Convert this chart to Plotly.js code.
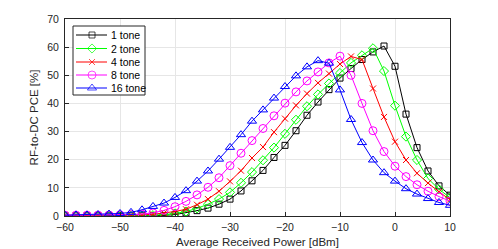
<!DOCTYPE html>
<html><head><meta charset="utf-8">
<script src="https://cdn.plot.ly/plotly-3.0.1.min.js"></script>
<style>html,body{margin:0;padding:0;background:#fff}#chart{width:498px;height:249px}</style>
</head><body><div id="chart"></div>
<script>
const power = [-60,-58,-56,-54,-52,-50,-48,-46,-44,-42,-40,-38,-36,-34,-32,-30,-28,-26,-24,-22,-20,-18,-16,-14,-12,-10,-8,-6,-4,-2,0,2,4,6,8,10];
const tone1 = [0.05,0.05,0.05,0.05,0.05,0.05,0.05,0.08,0.1,0.2,0.5,1.1,1.9,2.8,4.2,6.0,8.9,12.5,16.2,20.8,25.1,30.3,35.8,40.5,44.9,49.0,52.4,55.6,58.3,60.4,53.2,36.2,24.3,16.0,10.7,7.4];
const tone2 = [0.05,0.05,0.05,0.05,0.05,0.06,0.08,0.15,0.3,0.5,0.9,1.6,2.7,4.2,6.0,8.4,11.8,15.6,19.8,24.3,29.2,34.2,39.0,43.2,47.1,50.8,54.4,57.1,59.6,51.5,39.2,28.2,19.9,13.3,9.5,6.5];
const tone4 = [0.2,0.2,0.2,0.2,0.2,0.25,0.3,0.4,0.6,1.0,1.6,2.4,4.0,6.0,8.8,12.3,16.1,20.6,24.5,29.8,34.6,39.3,43.5,47.3,50.6,54.0,56.7,55.6,45.3,35.2,26.4,19.9,15.2,11.7,8.6,5.8];
const tone8 = [0.3,0.3,0.3,0.3,0.35,0.4,0.5,0.7,1.1,2.0,3.3,5.2,7.5,10.2,13.6,17.9,22.3,26.8,31.1,35.6,40.1,44.1,48.0,51.2,54.4,56.8,50.0,40.0,30.3,22.9,17.7,14.0,11.1,8.8,6.9,5.3];
const tone16 = [0.3,0.4,0.4,0.5,0.7,0.9,1.3,2.2,3.4,4.6,6.6,9.0,12.4,16.0,20.2,24.4,28.9,33.7,37.7,41.9,46.0,49.8,53.0,55.2,54.3,44.8,34.3,26.1,19.9,15.4,12.4,9.7,7.8,6.2,4.8,3.8];
const names = ['1 tone','2 tone','4 tone','8 tone','16 tone'];
const colors = ['#000000','#00ff00','#ff0000','#ff00ff','#0000ff'];
const symbols = ['square-open','diamond-open','x-thin-open','circle-open','triangle-up-open'];
const sizes = [6,7,6,8,8];
const xTicks = [-60,-50,-40,-30,-20,-10,0,10];
const yTicks = [0,10,20,30,40,50,60,70];
const series = [tone1,tone2,tone4,tone8,tone16];

const FONT = 'Liberation Sans, Arial, sans-serif';
const XR = [-60,10], YR = [0,70];
// plot area in pixels (used to place the hand-built legend)
const PL = 65, PR = 450, PT = 19, PB = 216;
const toX = px => XR[0] + (px-PL)/(PR-PL)*(XR[1]-XR[0]);
const toY = py => YR[0] + (PB-py)/(PB-PT)*(YR[1]-YR[0]);
const legBox = {x0:73, x1:145, y0:26, y1:95};
const legRowY = [35, 48.5, 62, 75, 88];
const legLine = [76, 92, 107];
const legTextX = 109;

const traces = series.map((ys,i)=>({
  x: power, y: ys, name: names[i], type:'scatter', mode:'lines+markers', showlegend:false,
  line:{color:colors[i], width:1},
  marker:{symbol:symbols[i], size:sizes[i], color:colors[i], line:{color:colors[i], width:1}}
}));
// legend samples
names.forEach((n,i)=>{
  traces.push({x: legLine.map(toX), y: legLine.map(()=>toY(legRowY[i])),
    type:'scatter', mode:'lines+markers', showlegend:false, hoverinfo:'skip', cliponaxis:false,
    line:{color:colors[i], width:1},
    marker:{symbol:symbols[i], size:[0,sizes[i],0], color:colors[i], line:{color:colors[i], width:1}}});
});

const axisCommon = {
  showline:true, mirror:true, linecolor:'#262626', linewidth:1,
  ticks:'inside', ticklen:4, tickcolor:'#262626',
  showgrid:true, gridcolor:'#e6e6e6', gridwidth:1, zeroline:false,
  tickfont:{family:FONT, size:10.5, color:'#262626'}
};

const layout = {
  width:498, height:249,
  margin:{l:PL, r:498-PR, t:PT, b:249-PB},
  paper_bgcolor:'#fff', plot_bgcolor:'#fff',
  showlegend:false,
  xaxis: Object.assign({}, axisCommon, {range:XR, tickvals:xTicks, ticklabelstandoff:1,
    title:{text:'Average Received Power [dBm]', standoff:6, font:{family:FONT, size:11.5, color:'#262626'}}}),
  yaxis: Object.assign({}, axisCommon, {range:YR, tickvals:yTicks, ticklabelstandoff:3,
    title:{text:'RF-to-DC PCE [%]', standoff:6, font:{family:FONT, size:11.5, color:'#262626'}}}),
  shapes:[{type:'rect', xref:'x', yref:'y', x0:toX(legBox.x0), x1:toX(legBox.x1), y0:toY(legBox.y1), y1:toY(legBox.y0),
    line:{color:'#262626', width:1}, fillcolor:'#ffffff', layer:'between'}],
  annotations: names.map((n,i)=>({xref:'x', yref:'y', x:toX(legTextX), y:toY(legRowY[i]), text:n,
    showarrow:false, xanchor:'left', yanchor:'middle',
    font:{family:FONT, size:10.5, color:'#000'}}))
};
Plotly.newPlot('chart', traces, layout, {staticPlot:true, displayModeBar:false});
</script></body></html>
